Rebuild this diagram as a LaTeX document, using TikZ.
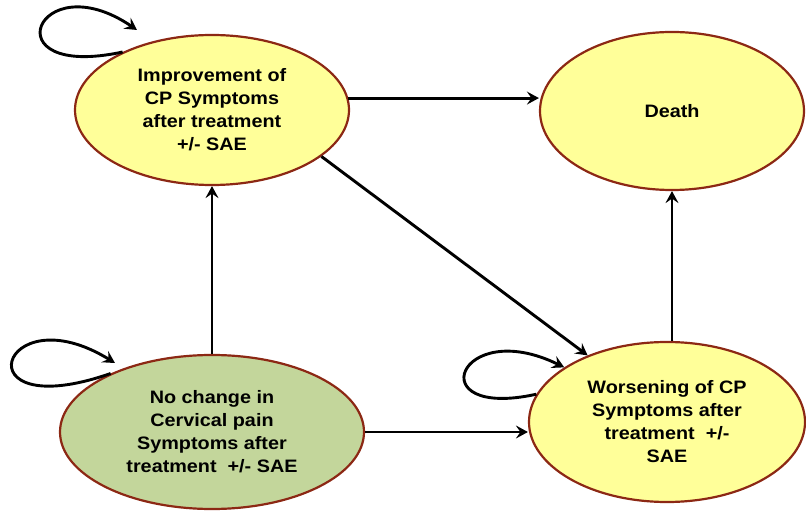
\documentclass[tikz,border=0pt]{standalone}
\usepackage{fontspec}
\setmainfont{Liberation Sans}[FakeStretch=1.1]
\usetikzlibrary{shapes.geometric,arrows.meta}
\definecolor{stateyellow}{RGB}{255,255,153}
\definecolor{stategreen}{RGB}{195,214,155}
\definecolor{stateedge}{RGB}{140,40,20}

\begin{document}
\begin{tikzpicture}[x=1pt,y=1pt,
	state/.style={ellipse,draw=stateedge,line width=2.2pt,fill=stateyellow,inner sep=0pt,align=center,font=\fontsize{18}{23}\selectfont\bfseries},
	arr/.style={line width=2.9pt,-{Stealth[length=12pt,width=13pt,inset=4.5pt]}}]
	\useasboundingbox (0,0) rectangle (806,512);
	
	% states
	\node[state,minimum width=274,minimum height=150] (imp) at (212,402) {Improvement of\\CP Symptoms\\after treatment\\+/- SAE};
	\node[state,minimum width=264,minimum height=158] (death) at (672,401) {Death};
	\node[state,fill=stategreen,minimum width=304,minimum height=154] (noch) at (212,80) {No change in\\Cervical pain\\Symptoms after\\treatment\ \ +/- SAE};
	\node[state,minimum width=276,minimum height=160] (wors) at (667,90) {Worsening of CP\\Symptoms after\\treatment\ \ +/-\\SAE};
	
	% transitions
	\draw[arr] (imp.5) -- (imp.5 -| death.west);
	\draw[arr] (imp.-23) -- (wors.140);
	\draw[arr] (noch.north) -- (imp.south);
	\draw[arr] (noch.east) -- (noch.east -| wors.west);
	\draw[arr] (death.south |- wors.north) -- (death.south);
	
	% stay in the same state
	\coordinate (impTip) at (137,482);
	\coordinate (nochTip) at (115,149);
	\draw[arr] (imp.147) .. controls +(-134,-29) and +(-100,68) .. (impTip);
	\draw[arr] (noch.150) .. controls +(-152,-53) and +(-115,71) .. (nochTip);
	\draw[arr] (wors.168) .. controls +(-118,-26) and +(-106,52) .. (wors.152);
\end{tikzpicture}
\end{document}
